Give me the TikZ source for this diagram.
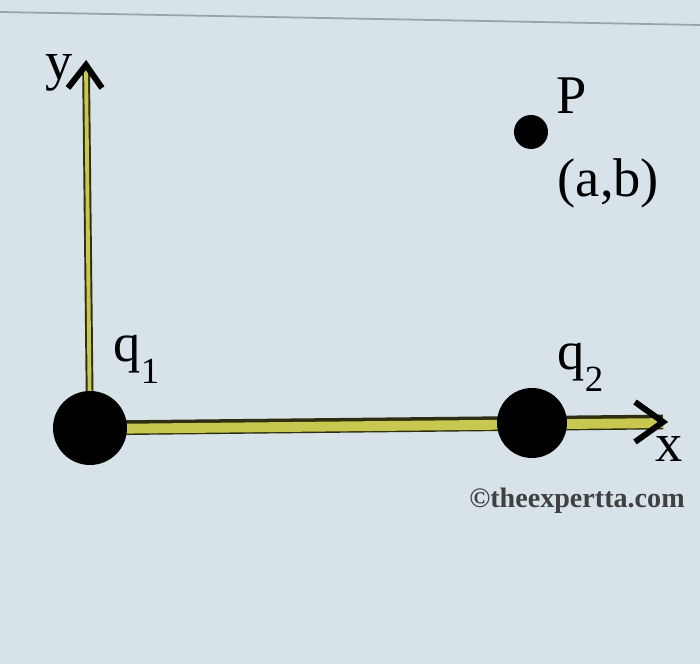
\documentclass[tikz,border=0pt]{standalone}
\usepackage{fontspec}
\setmainfont{Liberation Serif}
\definecolor{screenbg}{HTML}{D7E3E8}
\definecolor{axisyellow}{HTML}{C8C850}
\definecolor{axisdark}{HTML}{2E2E10}
\definecolor{edgegray}{HTML}{98A4A8}
\newcommand{\chargelabel}[1]{q\raisebox{-6pt}{\fontsize{10.5}{12}\selectfont #1}}
\begin{document}
\begin{tikzpicture}[
    charge/.style={circle,fill=black,inner sep=0pt},
    lbl/.style={anchor=base west,inner sep=0pt,font=\fontsize{15.5}{18}\selectfont},
    chevron/.style={black,line width=1.7pt,miter limit=10}
  ]
  \fill[screenbg] (0,0) rectangle (7,6.64);
  \useasboundingbox (0,0) rectangle (7,6.64);
  \draw[edgegray,line width=0.5pt] (0,6.52) -- (7,6.39);

  % charges and point
  \path
    (0.90,2.36) coordinate (q1)
    (5.32,2.41) coordinate (q2)
    (5.31,5.32) node[charge,minimum size=0.34cm] (P){};
  \coordinate (ytip) at (0.86,5.99);
  \coordinate (xtip) at (6.63,2.42);

  % axes
  \draw[axisdark,line width=2.2pt] (q1) -- (ytip);
  \draw[axisyellow,line width=1.1pt] (q1) -- (ytip);
  \draw[axisdark,line width=4.2pt] (q1) -- (xtip);
  \draw[axisyellow,line width=2.8pt] ([yshift=-0.3pt]q1) -- ([yshift=-0.3pt]xtip);
  \draw[chevron] (ytip) ++(-0.18,-0.23) -- (ytip) -- ++(0.16,-0.23);
  \draw[chevron] (xtip) ++(-0.28,0.20) -- (xtip) -- ++(-0.28,-0.20);

  % charges over the axes
  \node[charge,minimum size=0.74cm] (q1dot) at (q1) {};
  \node[charge,minimum size=0.70cm] (q2dot) at (q2) {};

  % labels
  \node[lbl] (ylabel) at (0.45,5.84) {y};
  \node[lbl] (xlabel) at (6.55,2.02) {x};
  \node[lbl] (q1label) at (1.13,3.02) {\chargelabel{1}};
  \node[lbl] (q2label) at (5.57,2.94) {\chargelabel{2}};
  \node[lbl] (Plabel) at (5.56,5.50) {P};
  \node[lbl] (Pcoord) at (5.57,4.67) {(a,b)};
  \node[anchor=base,inner sep=0pt,text=black!75,font=\fontsize{8}{10}\selectfont\bfseries]
    (mark) at (5.77,1.56) {©theexpertta.com};
\end{tikzpicture}
\end{document}
